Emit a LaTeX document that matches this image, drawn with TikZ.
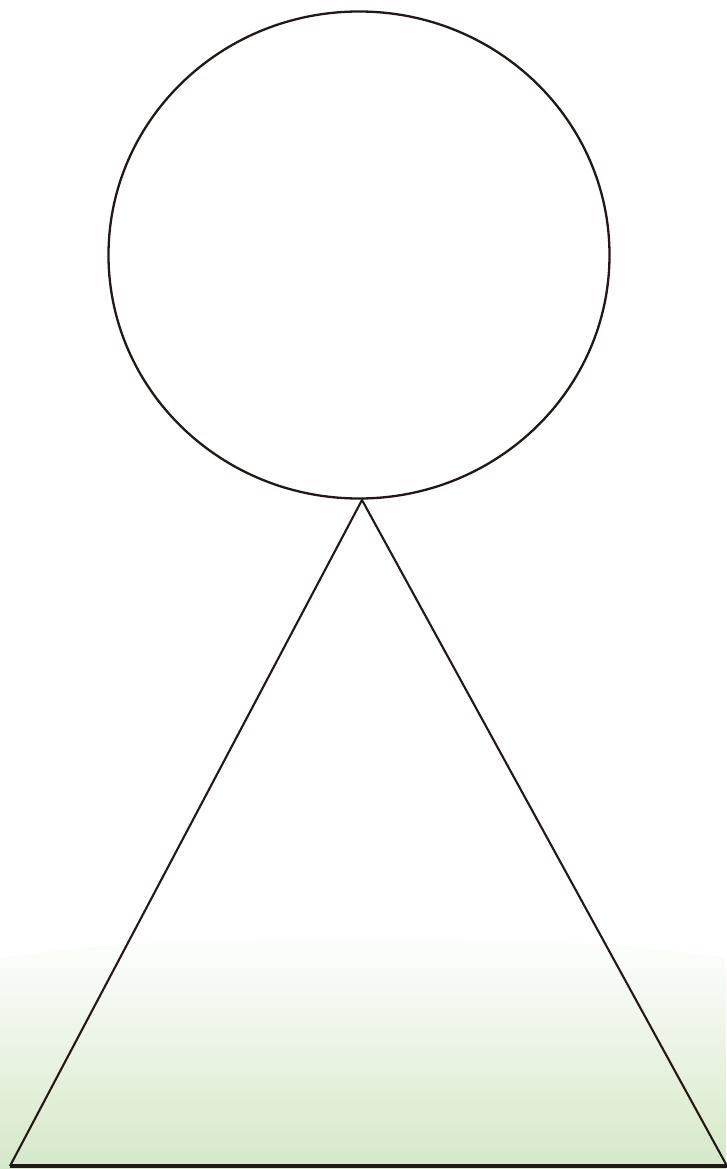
\documentclass[tikz,border=0pt]{standalone}
\usetikzlibrary{shapes.geometric}
\definecolor{inkline}{HTML}{231815}
\definecolor{grassgreen}{HTML}{D5E8C8}
\begin{document}
\begin{tikzpicture}[x=1pt,y=-1pt,
  outline/.style={draw=inkline,line width=2.3pt,line join=miter}]
\useasboundingbox (0,0) rectangle (726,1169);
\fill[white] (0,0) rectangle (726,1169);
% ground gradient
\shade[top color=white,bottom color=grassgreen]
  (0,1169) -- (0,958) .. controls (200,928) and (526,928) .. (726,958) -- (726,1169) -- cycle;
% head
\node[outline,ellipse,minimum width=501pt,minimum height=487pt,inner sep=0pt] (head) at (359,255) {};
% body triangle
\coordinate (apex) at (362,500);
\coordinate (bl) at (10,1166);
\coordinate (br) at (727,1166);
\draw[outline,line width=2.1pt] (bl) -- (apex) -- (br);
\draw[draw=inkline,line width=3.2pt] (bl) -- (br);
\end{tikzpicture}
\end{document}
